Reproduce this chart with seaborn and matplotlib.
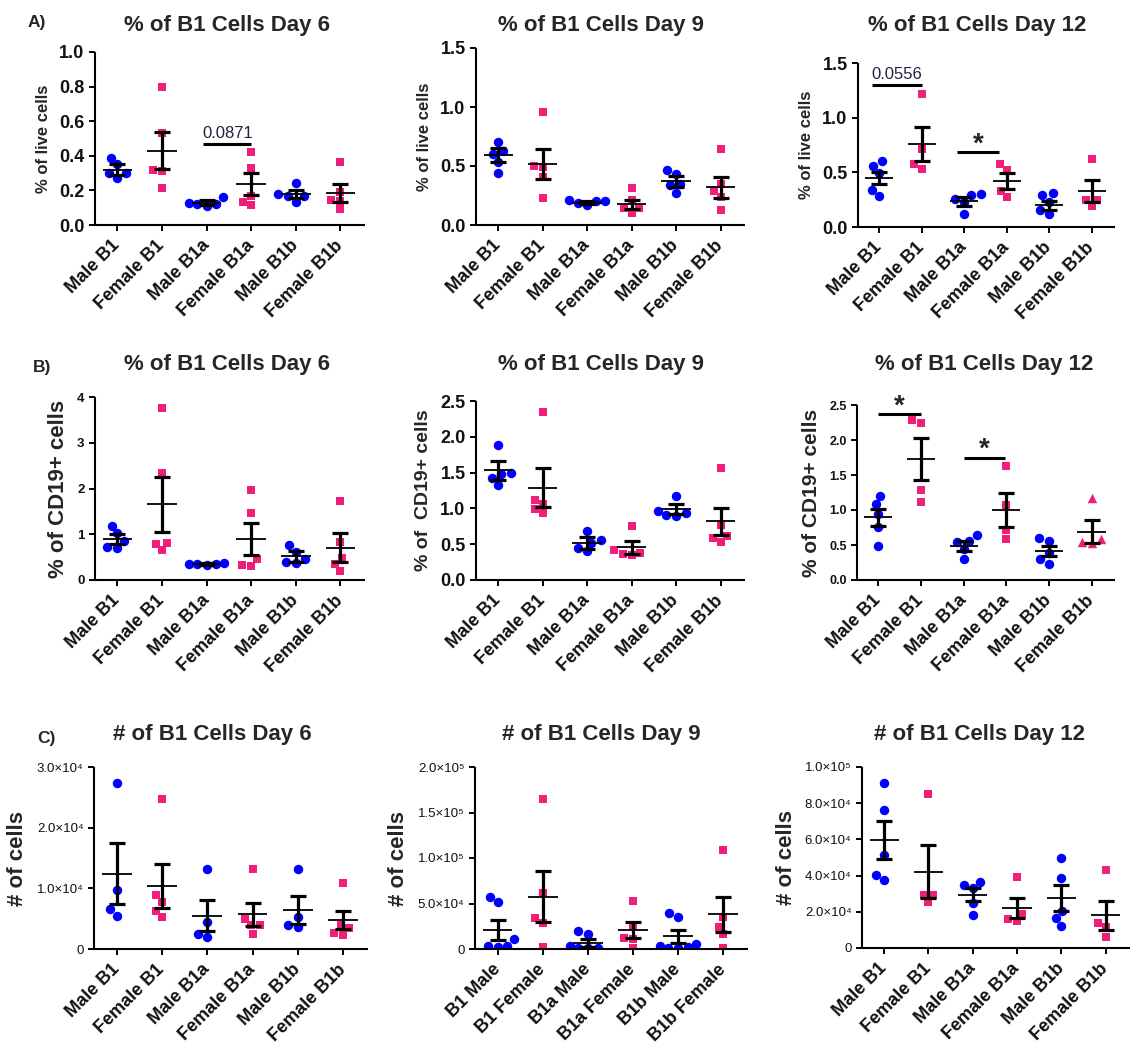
import numpy as np
import pandas as pd
import matplotlib
matplotlib.use("Agg")
import matplotlib.pyplot as plt
import seaborn as sns

sns.set_theme(style="ticks")
plt.rcParams["font.family"] = ["Liberation Sans", "DejaVu Sans"]

BLUE = "#0000FF"
PINK = "#F01E78"

groups_std = ["Male B1", "Female B1", "Male B1a", "Female B1a", "Male B1b", "Female B1b"]
groups_c9 = ["B1 Male", "B1 Female", "B1a Male", "B1a Female", "B1b Male", "B1b Female"]

# ---------------- Row A : % of live cells ----------------
a6_points = [[0.39, 0.35, 0.30, 0.27, 0.30], [0.80, 0.53, 0.32, 0.31, 0.215],
             [0.16, 0.13, 0.12, 0.12, 0.11], [0.42, 0.33, 0.17, 0.135, 0.115],
             [0.245, 0.18, 0.165, 0.165, 0.135], [0.365, 0.19, 0.145, 0.14, 0.09]]
a6_mean = [0.32, 0.43, 0.13, 0.235, 0.18, 0.185]
a6_sem = [0.031, 0.105, 0.012, 0.064, 0.022, 0.05]

a9_points = [[0.70, 0.63, 0.60, 0.53, 0.44], [0.96, 0.50, 0.49, 0.41, 0.23],
             [0.21, 0.20, 0.20, 0.19, 0.17], [0.31, 0.21, 0.14, 0.14, 0.10],
             [0.47, 0.43, 0.35, 0.34, 0.275], [0.64, 0.35, 0.29, 0.24, 0.13]]
a9_mean = [0.59, 0.515, 0.19, 0.175, 0.37, 0.32]
a9_sem = [0.06, 0.125, 0.012, 0.04, 0.047, 0.09]

a12_points = [[0.60, 0.56, 0.49, 0.34, 0.28], [1.22, 0.71, 0.575, 0.53],
              [0.30, 0.29, 0.26, 0.23, 0.12], [0.575, 0.52, 0.33, 0.27],
              [0.31, 0.29, 0.23, 0.16, 0.12], [0.62, 0.25, 0.25, 0.19]]
a12_mean = [0.445, 0.76, 0.235, 0.42, 0.20, 0.33]
a12_sem = [0.054, 0.155, 0.04, 0.075, 0.04, 0.10]

# ---------------- Row B : % of CD19+ cells ----------------
b6_points = [[1.19, 1.02, 0.85, 0.72, 0.70], [3.75, 2.34, 0.80, 0.79, 0.65],
             [0.37, 0.36, 0.35, 0.34, 0.33], [1.97, 1.47, 0.45, 0.33, 0.30],
             [0.76, 0.62, 0.45, 0.40, 0.38], [1.72, 0.84, 0.47, 0.35, 0.20]]
b6_mean = [0.90, 1.66, 0.35, 0.90, 0.52, 0.71]
b6_sem = [0.115, 0.60, 0.02, 0.355, 0.12, 0.31]

b9_points = [[1.89, 1.50, 1.48, 1.43, 1.33], [2.35, 1.12, 1.06, 0.99, 0.93],
             [0.68, 0.56, 0.52, 0.45, 0.40], [0.75, 0.42, 0.38, 0.37, 0.35],
             [1.18, 0.97, 0.94, 0.91, 0.90], [1.57, 0.77, 0.61, 0.585, 0.525]]
b9_mean = [1.53, 1.29, 0.515, 0.455, 0.99, 0.82]
b9_sem = [0.13, 0.27, 0.08, 0.085, 0.075, 0.19]

b12_points = [[1.20, 1.08, 0.95, 0.76, 0.48], [2.28, 2.24, 1.28, 1.12],
              [0.65, 0.56, 0.55, 0.45, 0.30], [1.63, 1.07, 0.72, 0.58],
              [0.60, 0.56, 0.38, 0.30, 0.23], [1.17, 0.58, 0.54, 0.53]]
b12_mean = [0.895, 1.73, 0.485, 1.00, 0.41, 0.69]
b12_sem = [0.125, 0.30, 0.07, 0.245, 0.07, 0.165]

# ---------------- Row C : # of cells ----------------
c6_points = [[27300, 9800, 6600, 5500], [24800, 8900, 7800, 6300, 5300],
             [13200, 4500, 2500, 1900], [13200, 4900, 4000, 3900, 2500],
             [13200, 5200, 4000, 3600], [10800, 4000, 3400, 2600, 2300]]
c6_mean = [12400, 10400, 5500, 5700, 6450, 4800]
c6_sem = [5050, 3600, 2600, 1900, 2250, 1500]

c9_points = [[57500, 51300, 11300, 3600, 3600, 1800], [165000, 62000, 34500, 29000, 2000],
             [19300, 16400, 3500, 1500, 1000, 1000], [52700, 25500, 12000, 10900, 1000],
             [39300, 35000, 5000, 3000, 2000, 1500, 1000], [109000, 35000, 24700, 16400, 1000]]
c9_mean = [21000, 57500, 6500, 21000, 13800, 38000]
c9_sem = [11000, 28000, 4000, 9000, 7500, 19500]

c12_points = [[91100, 76300, 51400, 40600, 37800], [85000, 29500, 29500, 25300],
              [36700, 35000, 33000, 24800, 18500], [39000, 18900, 16100, 14900],
              [50000, 38500, 20700, 16500, 12100], [43300, 13800, 11600, 6000]]
c12_mean = [59800, 42200, 29500, 22200, 27700, 18000]
c12_sem = [10600, 14700, 3400, 5700, 7200, 8000]

# tick values / labels
ticks_a6 = [0.0, 0.2, 0.4, 0.6, 0.8, 1.0]
ticks_a9 = [0.0, 0.5, 1.0, 1.5]
ticks_b6 = [0, 1, 2, 3, 4]
ticks_b9 = [0.0, 0.5, 1.0, 1.5, 2.0, 2.5]
ticks_c6 = [0, 10000, 20000, 30000]
labels_c6 = ["0", "1.0×10⁴", "2.0×10⁴", "3.0×10⁴"]
ticks_c9 = [0, 50000, 100000, 150000, 200000]
labels_c9 = ["0", "5.0×10⁴", "1.0×10⁵", "1.5×10⁵", "2.0×10⁵"]
ticks_c12 = [0, 20000, 40000, 60000, 80000, 100000]
labels_c12 = ["0", "2.0×10⁴", "4.0×10⁴", "6.0×10⁴", "8.0×10⁴", "1.0×10⁵"]

FIG_W, FIG_H = 1135, 1055
fig = plt.figure(figsize=(FIG_W / 100, FIG_H / 100), dpi=100)


def px_axes(x0, y0, x1, y1):
    return fig.add_axes([x0 / FIG_W, 1 - y1 / FIG_H, (x1 - x0) / FIG_W, (y1 - y0) / FIG_H])


def panel(box, cats, points, means, sems, yticks, ylabels, ylim, ylabel,
          ytick_size, ytick_weight, ylabel_size, tri_last=False, ylabel_weight="bold"):
    ax = px_axes(*box)
    rows = []
    for i, (c, vals) in enumerate(zip(cats, points)):
        female = i % 2 == 1
        marker = "s" if female else "o"
        if tri_last and i == len(cats) - 1:
            marker = "^"
        for v in vals:
            rows.append({"group": c, "value": v, "color": PINK if female else BLUE, "marker": marker})
    df = pd.DataFrame(rows)
    for (col, mk), sub in df.groupby(["color", "marker"]):
        sns.swarmplot(data=sub, x="group", y="value", order=cats, color=col, marker=mk,
                      size=6.8 if mk != "s" else 6.2, linewidth=0, ax=ax, zorder=2, warn_thresh=1)
    xs = np.arange(len(cats))
    ax.errorbar(xs, means, yerr=sems, fmt="none", ecolor="black", elinewidth=2.3,
                capsize=6, capthick=2.3, zorder=4)
    ax.hlines(means, xs - 0.33, xs + 0.33, color="black", lw=1.3, zorder=4)
    ax.set_xlim(-0.5, 5.55)
    ax.set_ylim(*ylim)
    ax.set_yticks(yticks)
    ax.set_yticklabels(ylabels, fontsize=ytick_size, fontweight=ytick_weight)
    ax.set_xticks(xs)
    ax.set_xticklabels(cats, fontsize=13, fontweight="bold", rotation=45, ha="right",
                       va="center", rotation_mode="anchor")
    ax.tick_params(axis="x", pad=9)
    ax.set_xlabel("")
    ax.set_ylabel(ylabel, fontsize=ylabel_size, fontweight=ylabel_weight, labelpad=6)
    sns.despine(ax=ax)
    for s in ("left", "bottom"):
        ax.spines[s].set_linewidth(1.5)
        ax.spines[s].set_color("black")
        ax.spines[s].set_capstyle("butt")
    ax.tick_params(length=4, width=1.4, color="black", labelcolor="#111111")
    ax.patch.set_alpha(0)
    return ax


def sig(ax, x0, x1, y, text, star=False):
    ax.plot([x0, x1], [y, y], color="black", lw=2.2, clip_on=False, zorder=5, solid_capstyle="butt")
    if star:
        ax.annotate(text, xy=((x0 + x1) / 2, y), xytext=(0, -4), textcoords="offset points",
                    ha="center", va="bottom", fontsize=20, fontweight="bold")
    else:
        ax.annotate(text, xy=((x0 + x1) / 2, y), xytext=(0, 2), textcoords="offset points",
                    ha="center", va="bottom", fontsize=12, color="#222244")


fmt1 = lambda t: [f"{v:.1f}" for v in t]

# Row A
axA1 = panel((95, 52, 365, 225), groups_std, a6_points, a6_mean, a6_sem, ticks_a6, fmt1(ticks_a6),
             (0, 1.0), "% of live cells", 13, "bold", 12)
sig(axA1, 1.93, 3.0, 0.47, "0.0871")
axA2 = panel((476, 48, 745, 225), groups_std, a9_points, a9_mean, a9_sem, ticks_a9, fmt1(ticks_a9),
             (0, 1.5), "% of live cells", 13, "bold", 12)
axA3 = panel((858, 63, 1115, 227), groups_std, a12_points, a12_mean, a12_sem, ticks_a9, fmt1(ticks_a9),
             (0, 1.5), "% of live cells", 13, "bold", 12)
sig(axA3, -0.17, 1.0, 1.30, "0.0556")
sig(axA3, 1.84, 2.83, 0.685, "*", star=True)

# Row B
axB1 = panel((95, 397, 365, 580), groups_std, b6_points, b6_mean, b6_sem, ticks_b6,
             [str(v) for v in ticks_b6], (0, 4), "% of CD19+ cells", 9.5, "bold", 16)
axB2 = panel((476, 401, 745, 580), groups_std, b9_points, b9_mean, b9_sem, ticks_b9, fmt1(ticks_b9),
             (0, 2.5), "% of  CD19+ cells", 13, "bold", 14)
axB3 = panel((857, 405, 1115, 580), groups_std, b12_points, b12_mean, b12_sem, ticks_b9, fmt1(ticks_b9),
             (0, 2.5), "% of CD19+ cells", 9, "bold", 15, tri_last=True)
sig(axB3, 0.0, 1.0, 2.37, "*", star=True)
sig(axB3, 2.0, 2.98, 1.75, "*", star=True)

# Row C
axC1 = panel((94, 767, 368, 949), groups_std, c6_points, c6_mean, c6_sem, ticks_c6, labels_c6,
             (0, 30000), "# of cells", 9.5, "normal", 16)
axC2 = panel((475, 767, 748, 949), groups_c9, c9_points, c9_mean, c9_sem, ticks_c9, labels_c9,
             (0, 200000), "# of cells", 9.5, "normal", 16)
axC3 = panel((862, 767, 1130, 948), groups_std, c12_points, c12_mean, c12_sem, ticks_c12, labels_c12,
             (0, 100000), "# of cells", 9.5, "normal", 16)

# titles and panel letters
titles = [("% of B1 Cells Day 6", 227, 31), ("% of B1 Cells Day 9", 601, 31), ("% of B1 Cells Day 12", 977, 31),
          ("% of B1 Cells Day 6", 227, 370), ("% of B1 Cells Day 9", 601, 370), ("% of B1 Cells Day 12", 984, 370),
          ("# of B1 Cells Day 6", 212, 740), ("# of B1 Cells Day 9", 601, 740), ("# of B1 Cells Day 12", 980, 740)]
for t, x, y in titles:
    fig.text(x / FIG_W, 1 - y / FIG_H, t, ha="center", va="baseline", fontsize=16, fontweight="bold")
for t, x, y in [("A)", 28, 27), ("B)", 33, 372), ("C)", 37, 743)]:
    fig.text(x / FIG_W, 1 - y / FIG_H, t, ha="left", va="baseline", fontsize=12.5, fontweight="bold")

fig.savefig("out.png", dpi=100, facecolor="white")
